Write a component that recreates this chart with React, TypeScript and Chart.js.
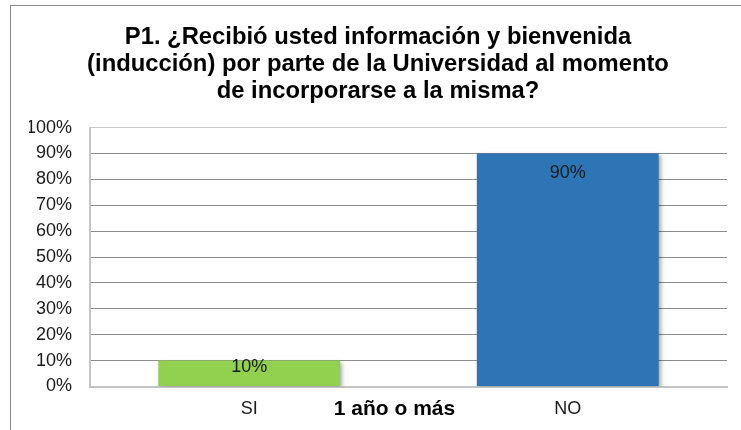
import React, { useEffect, useRef } from "react";
import { Chart, registerables } from "chart.js";

Chart.register(...registerables);

const categories: string[] = ["SI", "NO"];
const values: number[] = [10, 90];
const barColors: string[] = ["#92d050", "#2e75b6"];
const titleLines: string[] = [
  "P1. ¿Recibió usted información y bienvenida",
  "(inducción) por parte de la Universidad al momento",
  "de incorporarse a la misma?",
];
const axisTitle = "1 año o más";
const yTickMin = 0;
const yTickMax = 100;
const yTickStep = 10;

const FONT = "'Liberation Sans', Arial, sans-serif";

const shadowPlugin = {
  id: "barShadow",
  beforeDatasetDraw(chart: any) {
    const ctx = chart.ctx;
    ctx.save();
    ctx.shadowColor = "rgba(0,0,0,0.35)";
    ctx.shadowBlur = 4;
    ctx.shadowOffsetX = 2;
    ctx.shadowOffsetY = 2;
  },
  afterDatasetDraw(chart: any) {
    chart.ctx.restore();
  },
};

const labelPlugin = {
  id: "barLabels",
  afterDatasetsDraw(chart: any) {
    const ctx = chart.ctx;
    const meta = chart.getDatasetMeta(0);
    ctx.save();
    ctx.font = `18px ${FONT}`;
    ctx.fillStyle = "#1a1a1a";
    ctx.textAlign = "center";
    ctx.textBaseline = "middle";
    meta.data.forEach((bar: any, i: number) => {
      const h = bar.base - bar.y;
      const off = Math.min(20, h / 2 - 6);
      ctx.fillText(`${values[i]}%`, bar.x, bar.y + off);
    });
    // axis title on the tick-label line
    const xs = chart.scales.x;
    const ca = chart.chartArea;
    ctx.font = `bold 21px ${FONT}`;
    ctx.fillStyle = "#000000";
    ctx.fillText(axisTitle, (ca.left + ca.right) / 2 - 14, xs.top + 22.5);
    ctx.restore();
  },
};

export default function App() {
  const ref = useRef<HTMLCanvasElement | null>(null);
  useEffect(() => {
    if (!ref.current) return;
    const chart = new Chart(ref.current, {
      type: "bar",
      data: {
        labels: categories,
        datasets: [
          {
            data: values,
            backgroundColor: barColors,
            borderWidth: 0,
            barPercentage: 1,
            categoryPercentage: 0.571,
          },
        ],
      },
      options: {
        animation: false,
        responsive: false,
        maintainAspectRatio: false,
        layout: { padding: { left: 17, right: 17, top: 0, bottom: 3.5 } },
        plugins: {
          legend: { display: false },
          tooltip: { enabled: false },
          title: {
            display: true,
            text: titleLines,
            color: "#000000",
            font: { family: FONT, size: 23.8, weight: "bold", lineHeight: 1.135 },
            padding: { top: 17, bottom: 22.5 },
          },
        },
        scales: {
          x: {
            grid: { display: false, drawTicks: false },
            border: { display: true, color: "#c4c4c4", width: 2 },
            ticks: {
              color: "#1a1a1a",
              font: { family: FONT, size: 18 },
              padding: 11.7,
              maxRotation: 0,
            },
          },
          y: {
            min: yTickMin,
            max: yTickMax,
            afterFit: (s: any) => {
              s.width = 61;
            },
            grid: {
              drawTicks: false,
              color: (c: any) =>
                c.tick && (c.tick.value === yTickMax || c.tick.value === yTickMin)
                  ? "#c8c8c8"
                  : "#8c8c8c",
              lineWidth: 1,
            },
            border: { display: true, color: "#c4c4c4", width: 2 },
            ticks: {
              stepSize: yTickStep,
              color: "#1a1a1a",
              font: { family: FONT, size: 18 },
              padding: 18,
              callback: (v: any) => `${v}%`,
            },
          },
        },
      },
      plugins: [shadowPlugin, labelPlugin],
    });
    return () => chart.destroy();
  }, []);

  return (
    <div
      style={{
        position: "fixed",
        left: 0,
        top: 0,
        width: 741,
        height: 430,
        overflow: "hidden",
        background: "#ffffff",
      }}
    >
      <div
        style={{
          position: "absolute",
          left: 10,
          top: 5,
          width: 800,
          height: 500,
          borderLeft: "1.5px solid #8a8a8a",
          borderTop: "1.5px solid #8a8a8a",
        }}
      />
      <canvas
        ref={ref}
        width={732}
        height={428}
        style={{ position: "absolute", left: 12, top: 7, width: 732, height: 428 }}
      />
    </div>
  );
}
